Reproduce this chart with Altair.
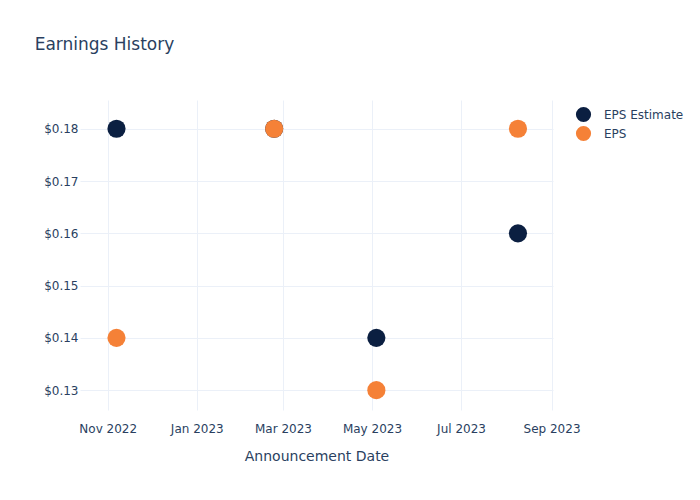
import altair as alt
import pandas as pd

dates = ["2022-11-07", "2023-02-23", "2023-05-04", "2023-08-09"]
eps_estimate = [0.18, 0.18, 0.14, 0.16]
eps_actual = [0.14, 0.18, 0.13, 0.18]
series_names = ["EPS Estimate", "EPS"]
series_colors = ["#0b1f41", "#f58137"]
y_ticks = [0.13, 0.14, 0.15, 0.16, 0.17, 0.18]

rows = []
for d, v in zip(dates, eps_estimate):
    rows.append({"date": d, "value": v, "series": series_names[0], "order": 0})
for d, v in zip(dates, eps_actual):
    rows.append({"date": d, "value": v, "series": series_names[1], "order": 1})
df = pd.DataFrame(rows)

text_color = "#2a3f5f"
grid_color = "#ebf0f8"

x_ticks = [alt.DateTime(year=y, month=m, date=1, utc=True)
           for y, m in [(2022, 11), (2023, 1), (2023, 3), (2023, 5), (2023, 7), (2023, 9)]]

chart = alt.Chart(df).mark_circle(size=330, opacity=1).encode(
    x=alt.X("date:T",
            scale=alt.Scale(type="utc",
                            domain=[alt.DateTime(year=2022, month=10, date=13, utc=True),
                                    alt.DateTime(year=2023, month=9, date=2, utc=True)]),
            axis=alt.Axis(title="Announcement Date", values=x_ticks,
                          labelExpr="utcFormat(datum.value, '%b %Y')",
                          labelPadding=13, titlePadding=15,
                          titleFontSize=14, titleFontWeight="normal")),
    y=alt.Y("value:Q",
            scale=alt.Scale(domain=[0.1262, 0.1855], nice=False, zero=False),
            axis=alt.Axis(title=None, values=y_ticks, format="$.2f", labelPadding=2)),
    color=alt.Color("series:N",
                    scale=alt.Scale(domain=series_names, range=series_colors),
                    legend=alt.Legend(title=None, orient="none", legendX=495, legendY=6,
                                      symbolSize=230, symbolType="circle",
                                      labelFontSize=12, labelColor=text_color,
                                      rowPadding=2, labelOffset=12, symbolOpacity=1)),
    order=alt.Order("order:Q"),
).properties(
    width=473,
    height=310,
    background="white",
    title=alt.TitleParams("Earnings History", anchor="start", dx=-9, offset=46,
                          fontSize=17, fontWeight="normal", color=text_color),
    autosize=alt.AutoSizeParams(type="none"),
    padding={"left": 80, "top": 100, "right": 147, "bottom": 90},
).configure_view(
    stroke=None
).configure_axis(
    grid=True, gridColor=grid_color, gridWidth=1, domain=False, ticks=False,
    labelFontSize=12, labelColor=text_color, titleColor=text_color,
    labelFont="DejaVu Sans", titleFont="DejaVu Sans"
).configure_legend(
    labelFont="DejaVu Sans"
).configure_title(
    font="DejaVu Sans"
)

chart.save("out.html", embed_options={"renderer": "svg", "actions": False})
